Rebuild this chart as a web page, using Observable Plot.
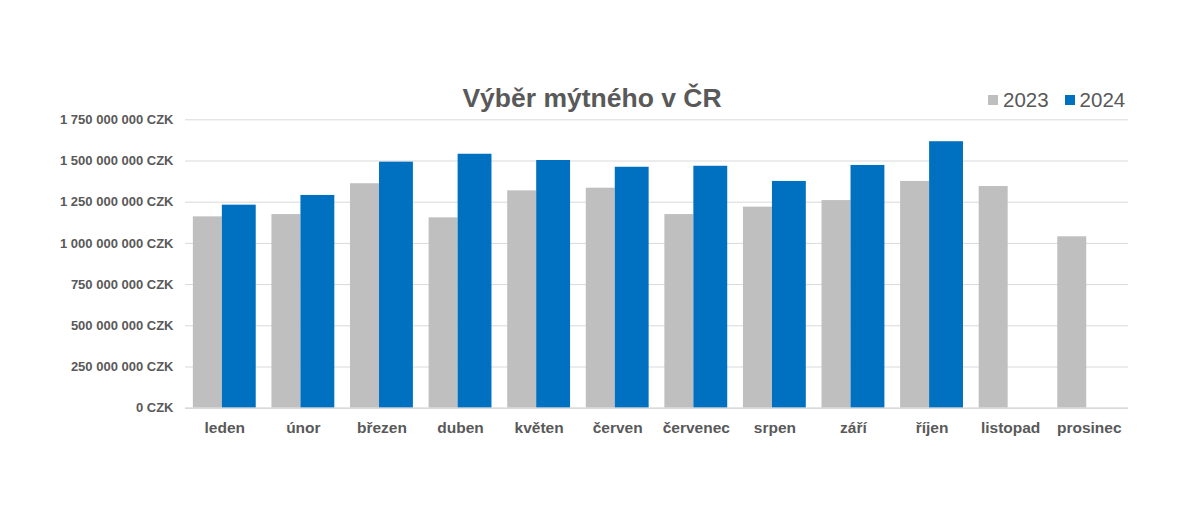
<!DOCTYPE html>
<html>
<head>
<meta charset="utf-8">
<script src="https://cdn.jsdelivr.net/npm/d3@7"></script>
<script src="https://cdn.jsdelivr.net/npm/@observablehq/plot@0.6"></script>
<style>
  html, body { margin: 0; padding: 0; background: #fff; }
  #wrap { position: relative; width: 1200px; height: 508px; font-family: "Liberation Sans", Arial, sans-serif; }
  #title { position: absolute; left: 0; width: 1184px; top: 82.7px; text-align: center; font-size: 26.5px; font-weight: bold; color: #595959; white-space: nowrap; }
  #legend { position: absolute; left: 988px; top: 88px; font-size: 20.5px; color: #595959; display: flex; align-items: center; }
  #legend .sw { display: inline-block; width: 10px; height: 10px; margin-right: 5px; }
  #legend .item { display: flex; align-items: center; margin-right: 16px; }
  #chart { position: absolute; left: 0; top: 0; }
</style>
</head>
<body>
<div id="wrap">
  <div id="chart"></div>
  <div id="title">Výběr mýtného v ČR</div>
  <div id="legend"></div>
</div>
<script>
const months = ["leden", "únor", "březen", "duben", "květen", "červen", "červenec", "srpen", "září", "říjen", "listopad", "prosinec"];
const years = ["2023", "2024"];
const colors = ["#bfbfbf", "#0070c0"];
const values2023 = [1161000000, 1175000000, 1362000000, 1155000000, 1319000000, 1335000000, 1175000000, 1220000000, 1260000000, 1376000000, 1345000000, 1040000000];
const values2024 = [1232000000, 1291000000, 1493000000, 1541000000, 1503000000, 1462000000, 1468000000, 1376000000, 1473000000, 1617000000, null, null];
const yTicks = [0, 250000000, 500000000, 750000000, 1000000000, 1250000000, 1500000000, 1750000000];

const data2023 = months.map((m, i) => ({month: m, value: values2023[i]})).filter(d => d.value != null);
const data2024 = months.map((m, i) => ({month: m, value: values2024[i]})).filter(d => d.value != null);

const fmt = d => d3.format(",")(d).replace(/,/g, " ") + " CZK";

const chart = Plot.plot({
  width: 1200,
  height: 508,
  marginTop: 119.3,
  marginBottom: 100.3,
  marginLeft: 185,
  marginRight: 72,
  style: {fontFamily: "'Liberation Sans', Arial, sans-serif", color: "#595959", background: "transparent"},
  x: {domain: months, paddingInner: 0.2, paddingOuter: 0.1, round: false, label: null},
  y: {domain: [0, 1750000000], label: null},
  marks: [
    Plot.gridY(yTicks, {stroke: "#d9d9d9", strokeOpacity: 1, strokeWidth: 1}),
    Plot.barY(data2023, {x: "month", y: "value", fill: colors[0], insetRight: 33.9}),
    Plot.barY(data2024, {x: "month", y: "value", fill: colors[1], insetLeft: 29}),
    Plot.ruleY([0], {stroke: "#d9d9d9", strokeWidth: 1.5}),
    Plot.axisY(yTicks, {tickFormat: fmt, tickSize: 0, tickPadding: 12, fontSize: 13, fontWeight: "bold", fill: "#595959", label: null}),
    Plot.axisX({tickSize: 0, tickPadding: 14, fontSize: 15.5, fontWeight: "bold", fill: "#595959", label: null})
  ]
});
document.getElementById("chart").appendChild(chart);

const legend = document.getElementById("legend");
years.forEach((y, i) => {
  const item = document.createElement("span");
  item.className = "item";
  const sw = document.createElement("span");
  sw.className = "sw";
  sw.style.background = colors[i];
  item.appendChild(sw);
  item.appendChild(document.createTextNode(y));
  legend.appendChild(item);
});
</script>
</body>
</html>
